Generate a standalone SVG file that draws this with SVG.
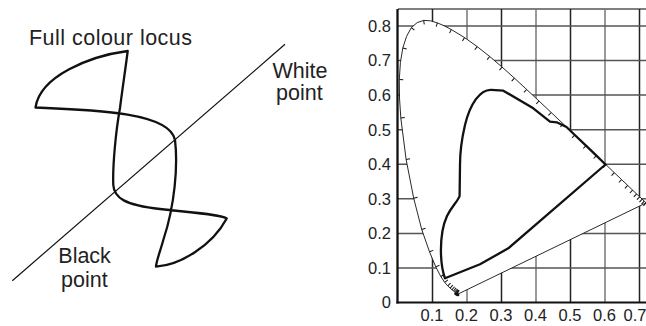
<svg xmlns="http://www.w3.org/2000/svg" width="646" height="326" viewBox="0 0 646 326">
<style>
  .lbl{font-family:"Liberation Sans",Arial,sans-serif;font-size:21.5px;fill:#222}
  .tk{font-family:"Liberation Sans",Arial,sans-serif;font-size:16.5px;fill:#222}
  .gv{stroke:#555;stroke-width:1.5}
  .gh{stroke:#555;stroke-width:1.5}
  .thick{fill:none;stroke:#111;stroke-width:2.3;stroke-linejoin:round;stroke-linecap:round}
</style>
<defs>
  <marker id="tick" markerUnits="userSpaceOnUse" markerWidth="6" markerHeight="6" refX="0" refY="0" orient="auto" overflow="visible">
    <line x1="0" y1="0" x2="0" y2="4" stroke="#111" stroke-width="1"/>
  </marker>
</defs>
<rect width="646" height="326" fill="#fff"/>

<g id="left-panel">
  <line x1="12.3" y1="280.7" x2="285" y2="44.3" stroke="#111" stroke-width="1.2"/>
  <path class="thick" d="M127.7,51 C90,56 40,76 35.5,107.5 C100,110 170,113 175,140 C178,165 175,205 163.3,240 C160,252 156,262 156,266.7 C180,265 212,246 226.7,218.5 C222,214.5 190,212.5 160,209 C125,205 114,198 113.3,185 C112.5,165 116,130 120,108 C122,92 126,65 127.7,51 Z"/>
  <text class="lbl" x="29" y="45" textLength="163" lengthAdjust="spacing">Full colour locus</text>
  <text class="lbl" x="272.5" y="78">White</text>
  <text class="lbl" x="276" y="100">point</text>
  <text class="lbl" x="58.3" y="263.3">Black</text>
  <text class="lbl" x="61" y="286.5">point</text>
</g>

<g id="chart">
  <g id="grid">
    <line class="gh" x1="398" y1="9" x2="646" y2="9"/>
    <line class="gv" x1="432.5" y1="9" x2="432.5" y2="302.5" style="stroke:#222"/>
    <line class="gv" x1="467" y1="9" x2="467" y2="302.5" style="stroke:#777"/>
    <line class="gv" x1="501.5" y1="9" x2="501.5" y2="302.5" style="stroke:#222"/>
    <line class="gv" x1="536" y1="9" x2="536" y2="302.5" style="stroke:#777"/>
    <line class="gv" x1="570.5" y1="9" x2="570.5" y2="302.5" style="stroke:#222"/>
    <line class="gv" x1="605" y1="9" x2="605" y2="302.5" style="stroke:#777"/>
    <line class="gv" x1="639.5" y1="9" x2="639.5" y2="302.5" style="stroke:#222"/>
    <line class="gh" x1="398" y1="267.9" x2="646" y2="267.9"/>
    <line class="gh" x1="398" y1="233.4" x2="646" y2="233.4"/>
    <line class="gh" x1="398" y1="198.8" x2="646" y2="198.8"/>
    <line class="gh" x1="398" y1="164.3" x2="646" y2="164.3"/>
    <line class="gh" x1="398" y1="129.7" x2="646" y2="129.7"/>
    <line class="gh" x1="398" y1="95.1" x2="646" y2="95.1"/>
    <line class="gh" x1="398" y1="60.6" x2="646" y2="60.6"/>
    <line class="gh" x1="398" y1="26" x2="646" y2="26"/>
  </g>
  <g id="spectral-locus">
    <path fill="#fff" stroke="#111" stroke-width="0.9" stroke-linejoin="round" d="M458.1,294.0 L457.8,294.0 457.1,293.9 456.3,293.3 455.6,292.8 454.7,292.0 453.6,291.0 452.0,289.8 450.1,288.1 447.7,285.8 444.7,282.4 440.8,276.5 435.8,266.9 429.5,251.8 421.7,229.4 413.7,198.2 406.1,159.4 400.8,117.9 399.5,98.1 399.3,79.5 400.4,62.6 402.8,48.0 406.6,36.3 411.4,27.6 417.2,22.6 423.6,20.4 430.4,20.8 437.4,22.9 444.4,25.9 451.4,29.6 464.6,37.6 477.2,46.6 489.7,56.5 502.1,67.1 514.4,78.1 526.7,89.5 539.0,101.0 551.2,112.5 563.2,123.9 574.8,135.0 586.0,145.6 596.4,155.6 606.0,164.7 614.3,172.7 621.6,179.6 627.7,185.4 632.6,190.1 636.6,193.9 639.7,196.8 642.2,199.2 644.3,201.2 646.1,202.9 Z"/>
    <path fill="none" stroke="none" marker-mid="url(#tick)" d="M457.4,294.0 L457.1,293.9 456.8,293.7 456.3,293.3 455.6,292.8 454.7,292.0 453.6,291.0 452.0,289.8 450.1,288.1 447.7,285.8 444.7,282.4 440.8,276.5 435.8,266.9 429.5,251.8 421.7,229.4 413.7,198.2 406.1,159.4 400.8,117.9 399.3,79.5 402.8,48.0 411.4,27.6 423.6,20.4 437.4,22.9 451.4,29.6 464.6,37.6 477.2,46.6 489.7,56.5 502.1,67.1 514.4,78.1 526.7,89.5 539.0,101.0 551.2,112.5 563.2,123.9 574.8,135.0 586.0,145.6 596.4,155.6 606.0,164.7 614.3,172.7 621.6,179.6 627.7,185.4 632.6,190.1 636.6,193.9 639.7,196.8 642.2,199.2 644.3,201.2 646.1,202.9 647.5,204.2"/>
    <ellipse cx="456.8" cy="294.3" rx="2.8" ry="1.6" fill="#111" transform="rotate(25 456.8 294.3)"/>
  </g>
  <g id="gamut">
    <path class="thick" d="M445,278.3 L480,264.3 L508.3,248.3 L605.5,164.5 L596.4,155.6 L586,145.6 L574.8,135 L566.5,127 L556.7,122.3 L550,121.7 L533.3,108.3 L503.3,90.7 L491,89.8 C480,89.5 470,104 465,125 C461,142 460,155 460,165 L459.6,196 C458,201 452,206 447,216 C442,227 440.5,240 441,255 C441.5,266 443,273 445,278.3 Z"/>
  </g>
  <g id="axes">
    <line x1="397.5" y1="9" x2="397.5" y2="303.6" stroke="#111" stroke-width="2.3"/>
    <line x1="396.4" y1="302.5" x2="646" y2="302.5" stroke="#111" stroke-width="2.2"/>
  </g>
  <g id="y-labels" text-anchor="end">
    <text class="tk" x="391" y="31.8">0.8</text>
    <text class="tk" x="391" y="66.4">0.7</text>
    <text class="tk" x="391" y="100.9">0.6</text>
    <text class="tk" x="391" y="135.5">0.5</text>
    <text class="tk" x="391" y="170.1">0.4</text>
    <text class="tk" x="391" y="204.6">0.3</text>
    <text class="tk" x="391" y="239.2">0.2</text>
    <text class="tk" x="391" y="273.7">0.1</text>
    <text class="tk" x="391" y="308.3">0</text>
  </g>
  <g id="x-labels" text-anchor="middle">
    <text class="tk" x="432" y="321">0.1</text>
    <text class="tk" x="466.5" y="321">0.2</text>
    <text class="tk" x="501" y="321">0.3</text>
    <text class="tk" x="535.5" y="321">0.4</text>
    <text class="tk" x="570" y="321">0.5</text>
    <text class="tk" x="604.5" y="321">0.6</text>
    <text class="tk" x="635" y="321">0.7</text>
  </g>
</g>
</svg>
